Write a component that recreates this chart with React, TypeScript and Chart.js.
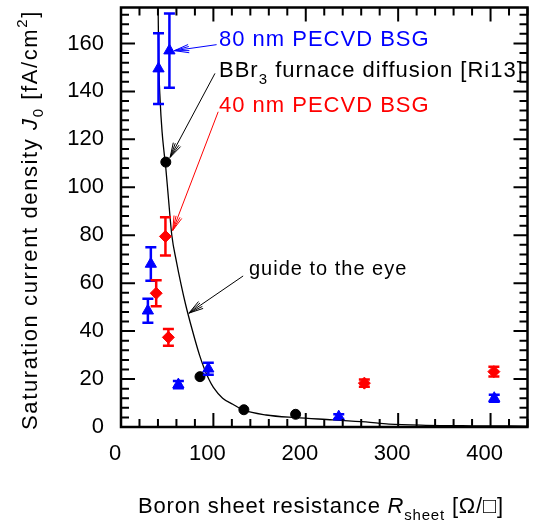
import React, { useEffect, useRef } from "react";
import { Chart, registerables } from "chart.js";

Chart.register(...registerables);

// axis ranges / ticks
const X_MIN = 0;
const X_MAX = 440;
const Y_MIN = 0;
const Y_MAX = 175;
const X_LABEL_STEP = 100;
const X_MINOR_STEP = 20;
const Y_LABEL_STEP = 20;
const Y_MINOR_STEP = 4;

// BBr3 furnace diffusion [Ri13]
const bbrRsheet = [48.5, 85.5, 133, 189];
const bbrJ0 = [110.5, 21, 7.2, 5.3];

// 80 nm PECVD BSG
const bsg80Rsheet = [29.1, 32.3, 40.6, 52.4, 62.1, 94.5, 235.7, 404];
const bsg80J0 = [48.5, 68, 149.5, 157, 17.7, 24.3, 4.3, 12];
const bsg80Err = [5, 7, 14.8, 15.5, 1.5, 2.5, 1, 1.5];

// 40 nm PECVD BSG
const bsg40Rsheet = [38.1, 48.1, 51.3, 263.4, 403.6];
const bsg40J0 = [55.8, 79.5, 37.4, 18.3, 23.1];
const bsg40Err = [5.4, 8, 3.5, 1.5, 2];

// guide to the eye
const guideRsheet = [40.2, 40.8, 42.4, 44.5, 46.5, 48.5, 51, 55, 60, 65, 70, 75, 80, 85, 90, 95, 100, 110, 121, 133, 157, 189, 229, 265, 290, 330, 380, 440];
const guideJ0 = [175, 154, 136, 123, 115, 108, 97, 80, 69, 59.5, 51, 43.5, 36.5, 30, 24.5, 20, 16.5, 12, 9.5, 7, 5, 3.9, 3, 2.1, 1.2, 0.7, 0.5, 0.4];

const BLUE = "#0000ff";
const RED = "#ff0000";
const FAMILY = '"Liberation Sans", Arial, sans-serif';

type Seg = { t: string; italic?: boolean; sub?: boolean; sup?: boolean };

function drawRich(ctx: CanvasRenderingContext2D, segs: Seg[], x: number, y: number, size: number, align: "left" | "center", color: string, spacing: number) {
  const fontFor = (s: Seg) => `${s.italic ? "italic " : ""}${s.sub || s.sup ? Math.round(size * 0.68) : size}px ${FAMILY}`;
  (ctx as any).letterSpacing = `${spacing}px`;
  let total = 0;
  const widths = segs.map((s) => {
    ctx.font = fontFor(s);
    const w = ctx.measureText(s.t).width;
    total += w;
    return w;
  });
  let cx = align === "center" ? x - total / 2 : x;
  ctx.textAlign = "left";
  ctx.textBaseline = "alphabetic";
  ctx.fillStyle = color;
  segs.forEach((s, i) => {
    ctx.font = fontFor(s);
    const dy = s.sub ? size * 0.3 : s.sup ? -size * 0.42 : 0;
    ctx.fillText(s.t, cx, y + dy);
    cx += widths[i];
  });
  (ctx as any).letterSpacing = "0px";
}

function arrow(ctx: CanvasRenderingContext2D, x1: number, y1: number, x2: number, y2: number, color: string) {
  ctx.strokeStyle = color;
  ctx.lineWidth = 1;
  ctx.beginPath();
  ctx.moveTo(x1, y1);
  ctx.lineTo(x2, y2);
  const ang = Math.atan2(y1 - y2, x1 - x2);
  const len = 15;
  for (const d of [-0.28, -0.14, 0.14, 0.28]) {
    ctx.moveTo(x2, y2);
    ctx.lineTo(x2 + Math.cos(ang + d) * len, y2 + Math.sin(ang + d) * len);
  }
  ctx.stroke();
}

const errorBars = {
  id: "errorBars",
  afterDatasetsDraw(chart: any) {
    const { ctx, scales } = chart;
    const x = scales.x;
    const y = scales.y;
    const groups = [
      { xs: bsg80Rsheet, ys: bsg80J0, es: bsg80Err, color: BLUE },
      { xs: bsg40Rsheet, ys: bsg40J0, es: bsg40Err, color: RED },
    ];
    ctx.save();
    for (const g of groups) {
      ctx.strokeStyle = g.color;
      ctx.lineWidth = 2.5;
      g.xs.forEach((xv, i) => {
        const px = x.getPixelForValue(xv);
        const top = y.getPixelForValue(g.ys[i] + g.es[i]);
        const bot = y.getPixelForValue(g.ys[i] - g.es[i]);
        ctx.beginPath();
        ctx.moveTo(px, top);
        ctx.lineTo(px, bot);
        ctx.moveTo(px - 5.5, top);
        ctx.lineTo(px + 5.5, top);
        ctx.moveTo(px - 5.5, bot);
        ctx.lineTo(px + 5.5, bot);
        ctx.stroke();
      });
    }
    ctx.restore();
  },
};

const frame = {
  id: "frame",
  afterDraw(chart: any) {
    const { ctx, chartArea: a, scales } = chart;
    const x = scales.x;
    const y = scales.y;
    ctx.save();
    ctx.strokeStyle = "#000";
    ctx.lineWidth = 2;
    ctx.beginPath();
    for (let v = X_MIN; v <= X_MAX; v += X_MINOR_STEP) {
      const px = x.getPixelForValue(v);
      const len = v % X_LABEL_STEP === 0 ? 14 : 8;
      ctx.moveTo(px, a.bottom);
      ctx.lineTo(px, a.bottom - len);
      ctx.moveTo(px, a.top);
      ctx.lineTo(px, a.top + len);
    }
    for (let v = Y_MIN; v <= Y_MAX; v += Y_MINOR_STEP) {
      const py = y.getPixelForValue(v);
      const len = v % Y_LABEL_STEP === 0 ? 14 : 8;
      ctx.moveTo(a.left, py);
      ctx.lineTo(a.left + len, py);
      ctx.moveTo(a.right, py);
      ctx.lineTo(a.right - len, py);
    }
    ctx.stroke();
    ctx.lineWidth = 2.5;
    ctx.strokeRect(a.left, a.top, a.right - a.left, a.bottom - a.top);

    // annotations
    const P = (xv: number, yv: number) => [x.getPixelForValue(xv), y.getPixelForValue(yv)];
    const [b1x, b1y] = P(103.5, 159.5);
    const [b2x, b2y] = P(57.8, 157);
    arrow(ctx, b1x, b1y, b2x, b2y, BLUE);
    const [k1x, k1y] = P(101.7, 147.5);
    const [k2x, k2y] = P(53.2, 112.5);
    arrow(ctx, k1x, k1y, k2x, k2y, "#000");
    const [r1x, r1y] = P(105.2, 131.5);
    const [r2x, r2y] = P(56, 82);
    arrow(ctx, r1x, r1y, r2x, r2y, RED);
    const [g1x, g1y] = P(132.2, 63);
    const [g2x, g2y] = P(73.5, 47.5);
    arrow(ctx, g1x, g1y, g2x, g2y, "#000");

    drawRich(ctx, [{ t: "80 nm PECVD BSG" }], 219, 45.5, 22, "left", BLUE, 1);
    drawRich(ctx, [{ t: "BBr" }, { t: "3", sub: true }, { t: " furnace diffusion [Ri13]" }], 219, 77, 22, "left", "#000", 1);
    drawRich(ctx, [{ t: "40 nm PECVD BSG" }], 219, 112, 22, "left", RED, 1);
    drawRich(ctx, [{ t: "guide to the eye" }], 249, 275, 20, "left", "#000", 1);

    // axis titles
    drawRich(
      ctx,
      [{ t: "Boron sheet resistance " }, { t: "R", italic: true }, { t: "sheet", sub: true }, { t: " [Ω/□]" }],
      321,
      513,
      22,
      "center",
      "#000",
      0.8
    );
    ctx.save();
    ctx.translate(36.5, 220);
    ctx.rotate(-Math.PI / 2);
    drawRich(
      ctx,
      [{ t: "Saturation current density " }, { t: "J", italic: true }, { t: "0", sub: true }, { t: " [fA/cm" }, { t: "2", sup: true }, { t: "]" }],
      0,
      0,
      22,
      "center",
      "#000",
      1.6
    );
    ctx.restore();
    ctx.restore();
  },
};

export default function App() {
  const ref = useRef<HTMLCanvasElement | null>(null);
  useEffect(() => {
    document.body.style.margin = "0";
    const canvas = ref.current;
    if (!canvas) return;
    const toXY = (xs: number[], ys: number[]) => xs.map((v, i) => ({ x: v, y: ys[i] }));
    const chart = new Chart(canvas, {
      type: "scatter",
      data: {
        datasets: [
          {
            label: "80 nm PECVD BSG",
            data: toXY(bsg80Rsheet, bsg80J0),
            pointStyle: "triangle",
            pointRadius: 6.5,
            backgroundColor: BLUE,
            borderColor: BLUE,
            borderWidth: 1,
            order: 1,
          },
          {
            label: "40 nm PECVD BSG",
            data: toXY(bsg40Rsheet, bsg40J0),
            pointStyle: "rectRot",
            pointRadius: 6,
            backgroundColor: RED,
            borderColor: RED,
            borderWidth: 1,
            order: 2,
          },
          {
            label: "BBr3 furnace diffusion [Ri13]",
            data: toXY(bbrRsheet, bbrJ0),
            pointStyle: "circle",
            pointRadius: 5,
            backgroundColor: "#000",
            borderColor: "#000",
            borderWidth: 1,
            order: 3,
          },
          {
            label: "guide to the eye",
            data: toXY(guideRsheet, guideJ0),
            showLine: true,
            pointRadius: 0,
            borderColor: "#000",
            borderWidth: 1.3,
            cubicInterpolationMode: "monotone",
            order: 10,
          } as any,
        ],
      },
      options: {
        responsive: false,
        devicePixelRatio: 1,
        animation: false,
        layout: { padding: { left: 0, right: 3, top: 7, bottom: 0 } },
        plugins: { legend: { display: false }, tooltip: { enabled: false } },
        scales: {
          x: {
            type: "linear",
            min: X_MIN,
            max: X_MAX,
            grid: { display: false, drawTicks: false },
            border: { display: false },
            ticks: { stepSize: X_LABEL_STEP, includeBounds: false, labelOffset: -6, color: "#000", padding: 14, font: { family: FAMILY, size: 22 } },
            afterFit: (s: any) => {
              s.height = 96;
              s.paddingLeft = 0;
              s.paddingRight = 0;
              s.paddingTop = 0;
              s.paddingBottom = 0;
            },
          },
          y: {
            type: "linear",
            min: Y_MIN,
            max: Y_MAX,
            grid: { display: false, drawTicks: false },
            border: { display: false },
            ticks: { stepSize: Y_LABEL_STEP, includeBounds: false, color: "#000", padding: 17, font: { family: FAMILY, size: 22 } },
            afterFit: (s: any) => {
              s.width = 121;
              s.paddingLeft = 0;
              s.paddingRight = 0;
              s.paddingTop = 0;
              s.paddingBottom = 0;
            },
          },
        },
      },
      plugins: [errorBars, frame],
    });
    return () => chart.destroy();
  }, []);
  return <canvas ref={ref} width={535} height={523} style={{ display: "block" }} />;
}
